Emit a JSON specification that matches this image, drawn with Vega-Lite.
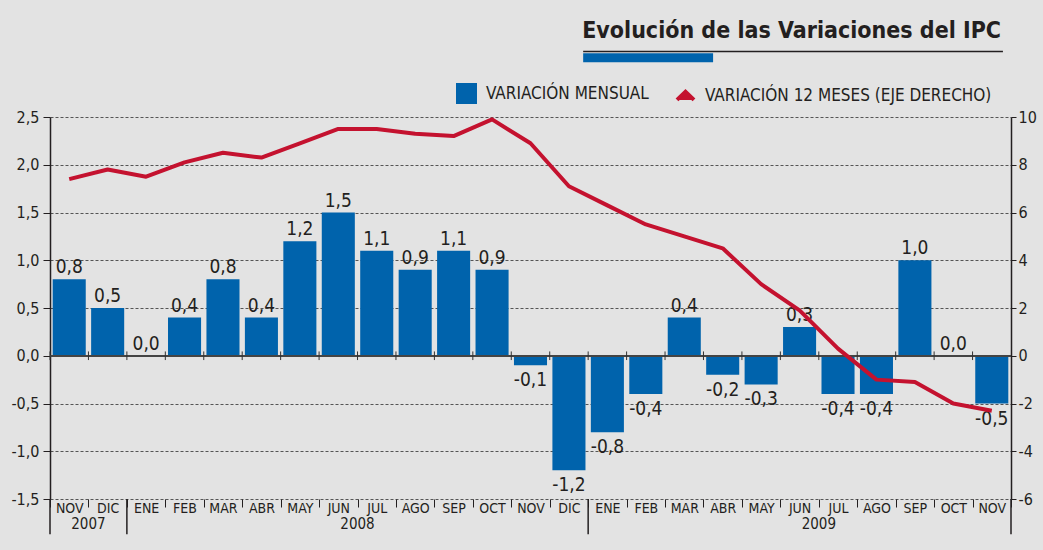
{
  "$schema": "https://vega.github.io/schema/vega-lite/v6.json",
  "width": 961,
  "height": 382,
  "autosize": {"type": "none"},
  "padding": {"left": 50, "top": 117, "right": 32, "bottom": 51},
  "background": "#e3e3e3",
  "title": {
    "text": "Evolución de las Variaciones del IPC",
    "anchor": "end",
    "frame": "group",
    "font": "Liberation Sans Narrow, Arial Narrow, DejaVu Sans Condensed, sans-serif",
    "fontSize": 23,
    "fontWeight": "bold",
    "color": "#231f20",
    "baseline": "alphabetic",
    "offset": 0,
    "dy": 10,
    "dx": -10
  },
  "config": {
    "view": {"stroke": null},
    "font": "Liberation Sans Narrow, Arial Narrow, DejaVu Sans Condensed, sans-serif",
    "axis": {
      "labelFont": "Liberation Sans Narrow, Arial Narrow, DejaVu Sans Condensed, sans-serif",
      "labelColor": "#231f20"
    },
    "legend": {
      "labelFont": "Liberation Sans Narrow, Arial Narrow, DejaVu Sans Condensed, sans-serif"
    }
  },
  "layer": [
    {
      "data": {"values": [
        {"m": "2007-11", "mensual": 0.8, "etiqueta": "0,8"},
        {"m": "2007-12", "mensual": 0.5, "etiqueta": "0,5"},
        {"m": "2008-01", "mensual": 0.0, "etiqueta": "0,0"},
        {"m": "2008-02", "mensual": 0.4, "etiqueta": "0,4"},
        {"m": "2008-03", "mensual": 0.8, "etiqueta": "0,8"},
        {"m": "2008-04", "mensual": 0.4, "etiqueta": "0,4"},
        {"m": "2008-05", "mensual": 1.2, "etiqueta": "1,2"},
        {"m": "2008-06", "mensual": 1.5, "etiqueta": "1,5"},
        {"m": "2008-07", "mensual": 1.1, "etiqueta": "1,1"},
        {"m": "2008-08", "mensual": 0.9, "etiqueta": "0,9"},
        {"m": "2008-09", "mensual": 1.1, "etiqueta": "1,1"},
        {"m": "2008-10", "mensual": 0.9, "etiqueta": "0,9"},
        {"m": "2008-11", "mensual": -0.1, "etiqueta": "-0,1"},
        {"m": "2008-12", "mensual": -1.2, "etiqueta": "-1,2"},
        {"m": "2009-01", "mensual": -0.8, "etiqueta": "-0,8"},
        {"m": "2009-02", "mensual": -0.4, "etiqueta": "-0,4"},
        {"m": "2009-03", "mensual": 0.4, "etiqueta": "0,4"},
        {"m": "2009-04", "mensual": -0.2, "etiqueta": "-0,2"},
        {"m": "2009-05", "mensual": -0.3, "etiqueta": "-0,3"},
        {"m": "2009-06", "mensual": 0.3, "etiqueta": "0,3"},
        {"m": "2009-07", "mensual": -0.4, "etiqueta": "-0,4"},
        {"m": "2009-08", "mensual": -0.4, "etiqueta": "-0,4"},
        {"m": "2009-09", "mensual": 1.0, "etiqueta": "1,0"},
        {"m": "2009-10", "mensual": 0.0, "etiqueta": "0,0"},
        {"m": "2009-11", "mensual": -0.5, "etiqueta": "-0,5"}
      ]},
      "layer": [
        {
          "mark": {"type": "bar", "width": {"band": 0.86}},
          "encoding": {
            "x": {
              "field": "m", "type": "ordinal", "title": null,
              "scale": {"domain": ["2007-11","2007-12","2008-01","2008-02","2008-03","2008-04","2008-05","2008-06","2008-07","2008-08","2008-09","2008-10","2008-11","2008-12","2009-01","2009-02","2009-03","2009-04","2009-05","2009-06","2009-07","2009-08","2009-09","2009-10","2009-11"], "paddingInner": 0, "paddingOuter": 0},
              "axis": {
                "orient": "bottom",
                "domain": false,
                "ticks": true,
                "tickBand": "extent",
                "tickSize": 8,
                "tickColor": "#231f20",
                "tickWidth": 1,
                "labelFontSize": 14,
                "labelPadding": -6,
                "labelOverlap": false,
                "labelAngle": 0,
                "grid": false,
                "labelExpr": "isString(datum.value) ? ['ENE','FEB','MAR','ABR','MAY','JUN','JUL','AGO','SEP','OCT','NOV','DIC'][toNumber(substring(datum.value, 5, 7)) - 1] : ''"
              }
            },
            "y": {
              "field": "mensual", "type": "quantitative", "title": null,
              "scale": {"domain": [-1.5, 2.5], "nice": false, "zero": false},
              "axis": {
                "orient": "left",
                "values": [-1.5, -1, -0.5, 0, 0.5, 1, 1.5, 2, 2.5],
                "labelExpr": "replace(replace(format(datum.value, '.1f'), '.', ','), '\u2212', '-')",
                "labelFontSize": 16,
                "labelPadding": 4,
                "domain": true,
                "domainColor": "#231f20",
                "domainWidth": 1.5,
                "tickColor": "#231f20",
                "tickSize": 7,
                "grid": true,
                "gridColor": "#555555",
                "gridDash": [3, 2],
                "gridWidth": 1
              }
            },
            "color": {
              "datum": "VARIACIÓN MENSUAL",
              "type": "nominal",
              "scale": {"domain": ["VARIACIÓN MENSUAL", "VARIACIÓN 12 MESES (EJE DERECHO)"], "range": ["#0063ac", "#c4122f"]},
              "legend": {
                "orient": "none",
                "legendX": 406,
                "legendY": -34,
                "direction": "horizontal",
                "title": null,
                "symbolSize": 289,
                "labelFontSize": 17,
                "labelLimit": 0,
                "labelColor": "#231f20",
                "labelOffset": 9,
                "columnPadding": 20,
                "padding": 0,
                "encode": {
                  "symbols": {
                    "update": {
                      "shape": {"signal": "datum.value === 'VARIACIÓN MENSUAL' ? 'square' : 'M-1,0.5L0,-0.45L1,0.5'"},
                      "fill": {"signal": "datum.value === 'VARIACIÓN MENSUAL' ? '#0063ac' : 'transparent'"},
                      "stroke": {"signal": "datum.value === 'VARIACIÓN MENSUAL' ? 'transparent' : '#c4122f'"},
                      "strokeWidth": {"value": 4},
                      "opacity": {"value": 1}
                    }
                  }
                }
              }
            }
          }
        },
        {
          "transform": [{"filter": "datum.mensual >= 0"}],
          "mark": {"type": "text", "baseline": "alphabetic", "dy": -6, "fontSize": 19, "color": "#231f20"},
          "encoding": {
            "x": {"field": "m", "type": "ordinal"},
            "y": {"field": "mensual", "type": "quantitative"},
            "text": {"field": "etiqueta", "type": "nominal"}
          }
        },
        {
          "transform": [{"filter": "datum.mensual < 0"}],
          "mark": {"type": "text", "baseline": "top", "dy": 6, "fontSize": 19, "color": "#231f20"},
          "encoding": {
            "x": {"field": "m", "type": "ordinal"},
            "y": {"field": "mensual", "type": "quantitative"},
            "text": {"field": "etiqueta", "type": "nominal"}
          }
        },
        {
          "mark": {"type": "rule", "color": "#444444", "strokeWidth": 1.5},
          "encoding": {"y": {"datum": 0, "type": "quantitative"}}
        },
        {
          "mark": {"type": "rule", "color": "#333333", "strokeWidth": 1},
          "encoding": {
            "x": {"field": "m", "type": "ordinal", "bandPosition": 0},
            "y": {"datum": 0.045, "type": "quantitative"},
            "y2": {"datum": -0.045}
          }
        },
        {
          "data": {"values": [{"m": "2007-11"}, {"m": "2008-01"}, {"m": "2009-01"}]},
          "mark": {"type": "rule", "color": "#231f20", "strokeWidth": 1.5},
          "encoding": {
            "x": {"field": "m", "type": "ordinal", "bandPosition": 0},
            "y": {"datum": -1.5, "type": "quantitative"},
            "y2": {"datum": -1.87}
          }
        },
        {
          "data": {"values": [{"m": "2009-11"}]},
          "mark": {"type": "rule", "color": "#231f20", "strokeWidth": 1.5},
          "encoding": {
            "x": {"field": "m", "type": "ordinal", "bandPosition": 1},
            "y": {"datum": -1.5, "type": "quantitative"},
            "y2": {"datum": -1.87}
          }
        },
        {
          "data": {"values": [{"m": "2007-12", "anio": "2007"}, {"m": "2008-07", "anio": "2008"}, {"m": "2009-07", "anio": "2009"}]},
          "mark": {"type": "text", "baseline": "alphabetic", "dy": 30, "fontSize": 15, "color": "#231f20", "align": "center"},
          "encoding": {
            "x": {"field": "m", "type": "ordinal", "bandPosition": 0},
            "y": {"datum": -1.5, "type": "quantitative"},
            "text": {"field": "anio", "type": "nominal"}
          }
        },
        {
          "data": {"values": [{"desde": "2008-12", "hasta": "2009-04"}]},
          "mark": {"type": "rule", "color": "#0063ac", "strokeWidth": 9},
          "encoding": {
            "x": {"field": "desde", "type": "ordinal", "bandPosition": 0.87},
            "x2": {"field": "hasta", "bandPosition": 0.25},
            "y": {"datum": 3.12, "type": "quantitative"}
          }
        },
        {
          "data": {"values": [{"desde": "2008-12", "hasta": "2009-11"}]},
          "mark": {"type": "rule", "color": "#231f20", "strokeWidth": 1.5},
          "encoding": {
            "x": {"field": "desde", "type": "ordinal", "bandPosition": 0.87},
            "x2": {"field": "hasta", "bandPosition": 0.79},
            "y": {"datum": 3.186, "type": "quantitative"}
          }
        }
      ]
    },
    {
      "data": {"values": [
        {"m": "2007-11", "anual": 7.4},
        {"m": "2007-12", "anual": 7.8},
        {"m": "2008-01", "anual": 7.5},
        {"m": "2008-02", "anual": 8.1},
        {"m": "2008-03", "anual": 8.5},
        {"m": "2008-04", "anual": 8.3},
        {"m": "2008-05", "anual": 8.9},
        {"m": "2008-06", "anual": 9.5},
        {"m": "2008-07", "anual": 9.5},
        {"m": "2008-08", "anual": 9.3},
        {"m": "2008-09", "anual": 9.2},
        {"m": "2008-10", "anual": 9.9},
        {"m": "2008-11", "anual": 8.9},
        {"m": "2008-12", "anual": 7.1},
        {"m": "2009-01", "anual": 6.3},
        {"m": "2009-02", "anual": 5.5},
        {"m": "2009-03", "anual": 5.0},
        {"m": "2009-04", "anual": 4.5},
        {"m": "2009-05", "anual": 3.0},
        {"m": "2009-06", "anual": 1.9},
        {"m": "2009-07", "anual": 0.3},
        {"m": "2009-08", "anual": -1.0},
        {"m": "2009-09", "anual": -1.1},
        {"m": "2009-10", "anual": -2.0},
        {"m": "2009-11", "anual": -2.3}
      ]},
      "mark": {"type": "line", "strokeWidth": 4, "strokeJoin": "round"},
      "encoding": {
        "x": {"field": "m", "type": "ordinal"},
        "y": {
          "field": "anual", "type": "quantitative", "title": null,
          "scale": {"domain": [-6, 10], "nice": false, "zero": false},
          "axis": {
            "orient": "right",
            "values": [-6, -4, -2, 0, 2, 4, 6, 8, 10],
            "labelExpr": "replace(format(datum.value, 'd'), '\u2212', '-')",
            "labelFontSize": 16,
            "labelPadding": 2,
            "domain": true,
            "domainColor": "#231f20",
            "domainWidth": 1.5,
            "tickColor": "#231f20",
            "tickSize": 5,
            "grid": false
          }
        },
        "color": {"datum": "VARIACIÓN 12 MESES (EJE DERECHO)", "type": "nominal"}
      }
    }
  ],
  "resolve": {"scale": {"y": "independent"}}
}
